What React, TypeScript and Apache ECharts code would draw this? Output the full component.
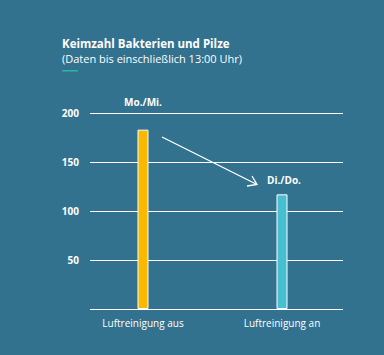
import React, { useEffect, useRef } from "react";
import * as echarts from "echarts";

const categories = ["Luftreinigung aus", "Luftreinigung an"];
const values = [183, 117];
const barColors = ["#FBB800", "#48BFD0"];
const periodLabels = ["Mo./Mi.", "Di./Do."];
const yTicks = { min: 0, max: 200, interval: 50 };

const FONT = "'Open Sans', 'Noto Sans', sans-serif";

export default function App() {
  const ref = useRef<HTMLDivElement>(null);
  useEffect(() => {
    if (!ref.current) return;
    document.body.style.margin = "0";
    const chart = echarts.init(ref.current, null, { renderer: "svg" });
    const option: any = {
      animation: false,
      backgroundColor: "#32728F",
      grid: [
        { left: 90, right: 41, top: 113, bottom: 46 },
        { left: 73.5, width: 278, top: 113, bottom: 46 },
      ],
      xAxis: [
        { gridIndex: 0, type: "value", min: 0, max: 1, show: false },
        {
          gridIndex: 1,
          type: "category",
          data: categories,
          axisLine: { show: false },
          axisTick: { show: false },
          axisLabel: { color: "#ffffff", fontSize: 10, fontFamily: FONT, margin: 9 },
        },
      ],
      yAxis: [
        {
          gridIndex: 0,
          type: "value",
          min: yTicks.min,
          max: yTicks.max,
          interval: yTicks.interval,
          axisLine: { show: false },
          axisTick: { show: false },
          axisLabel: {
            color: "#ffffff",
            fontSize: 10,
            fontWeight: "bold",
            fontFamily: FONT,
            margin: 11,
            formatter: (v: number) => (v === 0 ? "" : String(v)),
          },
          splitLine: { lineStyle: { color: "#ffffff", width: 1 } },
        },
        { gridIndex: 1, type: "value", min: yTicks.min, max: yTicks.max, show: false },
      ],
      series: [
        {
          type: "bar",
          xAxisIndex: 1,
          yAxisIndex: 1,
          barWidth: 11,
          data: values.map((v, i) => ({
            value: v,
            itemStyle: { color: barColors[i], borderColor: "#ffffff", borderWidth: 1 },
          })),
        },
      ],
      graphic: [
        {
          type: "text",
          left: 62,
          top: 37,
          style: {
            text: "Keimzahl Bakterien und Pilze",
            fill: "#ffffff",
            font: `bold 11.5px ${FONT}`,
          },
        },
        {
          type: "text",
          left: 62,
          top: 53,
          style: {
            text: "(Daten bis einschließlich 13:00 Uhr)",
            fill: "#ffffff",
            font: `11px ${FONT}`,
          },
        },
        {
          type: "rect",
          shape: { x: 62, y: 70, width: 16, height: 1.5 },
          style: { fill: "#2FB59B" },
        },
        {
          type: "text",
          x: 143,
          y: 102,
          style: {
            text: periodLabels[0],
            fill: "#ffffff",
            font: `bold 10px ${FONT}`,
            textAlign: "center",
            textVerticalAlign: "middle",
          },
        },
        {
          type: "text",
          x: 284,
          y: 180,
          style: {
            text: periodLabels[1],
            fill: "#ffffff",
            font: `bold 10px ${FONT}`,
            textAlign: "center",
            textVerticalAlign: "middle",
          },
        },
        {
          type: "line",
          shape: { x1: 162, y1: 137, x2: 257, y2: 184.5 },
          style: { stroke: "#ffffff", lineWidth: 1.3 },
        },
        {
          type: "polyline",
          shape: { points: [[247, 186], [257, 184.5], [252, 176]] },
          style: { stroke: "#ffffff", lineWidth: 1.3, fill: null },
        },
      ],
    };
    chart.setOption(option);
    return () => chart.dispose();
  }, []);
  return <div ref={ref} style={{ width: 384, height: 355 }} />;
}
